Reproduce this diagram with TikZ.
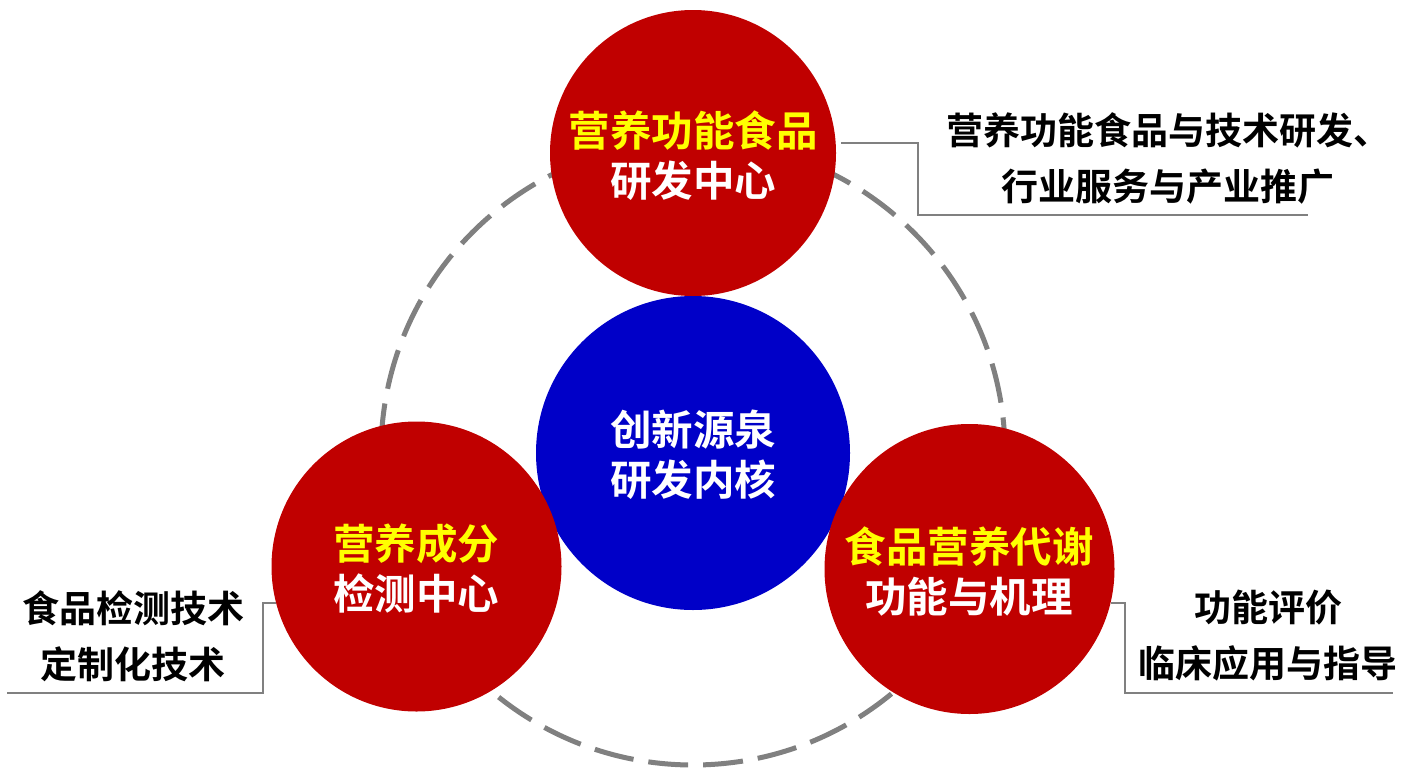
\documentclass[tikz,border=0pt]{standalone}
\usepackage{fontspec}
\setmainfont{Noto Sans CJK SC}[BoldFont={Noto Sans CJK SC Bold}]
\definecolor{cred}{HTML}{C00000}
\definecolor{cblue}{HTML}{0000C8}
\definecolor{cgray}{HTML}{808080}
\definecolor{cyel}{HTML}{FFFF00}
\begin{document}
\begin{tikzpicture}[x=1pt,y=-1pt,
  redball/.style={circle,fill=cred,minimum size=290pt,inner sep=0pt},
  blueball/.style={circle,fill=cblue,minimum size=314pt,inner sep=0pt},
  intext/.style={align=center,font=\bfseries\fontsize{41.5}{50}\selectfont,text=white},
  outtext/.style={align=center,font=\bfseries\fontsize{37}{56}\selectfont,text=black},
  leader/.style={draw=cgray,line width=2pt},
  ring/.style={draw=cgray,line width=5pt,dash pattern=on 40pt off 15pt}]
\useasboundingbox (0,0) rectangle (1405,779);
\coordinate (c) at (693,453);
\draw[ring] (c) circle[radius=312];
\node[blueball] (core) at (693,453) {};
\node[redball,minimum size=286pt] (top) at (693,153) {};
\node[redball] (left) at (416.5,566.5) {};
\node[redball] (right) at (969.5,569) {};
\node[intext] (tcore) at (693,455) {创新源泉\\研发内核};
\node[intext] (ttop) at (693,156) {\textcolor{cyel}{营养功能食品}\\研发中心};
\node[intext] (tleft) at (416,569) {\textcolor{cyel}{营养成分}\\检测中心};
\node[intext] (tright) at (969,571) {\textcolor{cyel}{食品营养代谢}\\功能与机理};
% callouts
\coordinate (a1) at (841,142.5);
\coordinate (a2) at (918,142.5);
\coordinate (a3) at (918,215);
\coordinate (a4) at (1308,215);
\draw[leader] (a1) -- (a2) -- (a3) -- (a4);
\coordinate (b1) at (276,603);
\coordinate (b2) at (262.5,603);
\coordinate (b3) at (262.5,692.5);
\coordinate (b4) at (7,692.5);
\draw[leader] (b1) -- (b2) -- (b3) -- (b4);
\coordinate (d1) at (1111,603);
\coordinate (d2) at (1124.5,603);
\coordinate (d3) at (1124.5,692.5);
\coordinate (d4) at (1393,692.5);
\draw[leader] (d1) -- (d2) -- (d3) -- (d4);
\node[outtext] (otop) at (1168,158) {营养功能食品与技术研发、\\行业服务与产业推广};
\node[outtext] (oleft) at (133,636) {食品检测技术\\定制化技术};
\node[outtext] (oright) at (1268,636) {功能评价\\临床应用与指导};
\end{tikzpicture}
\end{document}
